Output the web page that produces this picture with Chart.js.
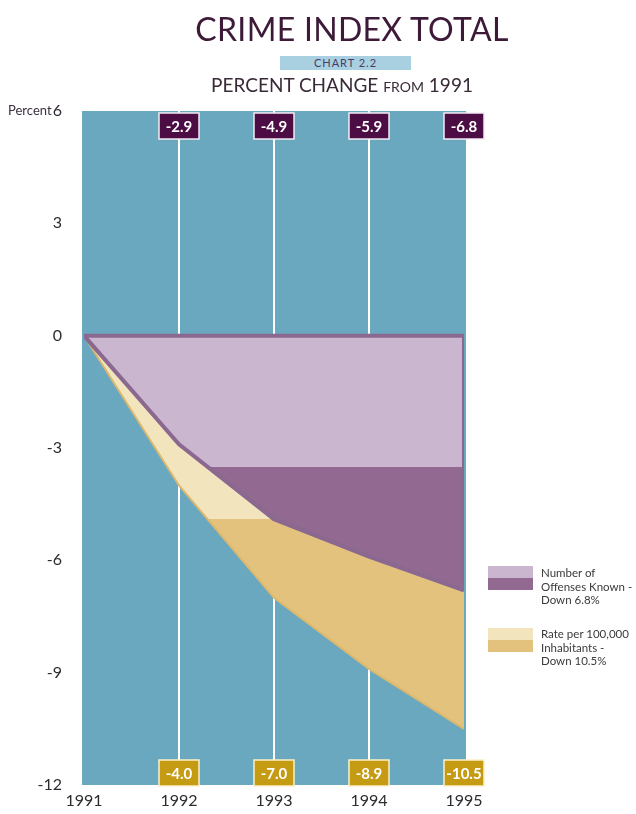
<!DOCTYPE html>
<html>
<head>
<meta charset="utf-8">
<script src="https://cdn.jsdelivr.net/npm/chart.js@4.4.1/dist/chart.umd.min.js"></script>
<style>
  body { margin: 0; background: #ffffff; font-family: Lato, "Open Sans", sans-serif; }
  #wrap { position: relative; width: 636px; height: 814px; }
  #chart { position: absolute; left: 0; top: 0; }
  .abs { position: absolute; white-space: nowrap; }
  #title { left: 0; width: 704px; top: 9px; text-align: center; font-size: 32px; color: #3d1a38; letter-spacing: 0.3px; }
  #chartNo { left: 280px; top: 56px; width: 131px; height: 14px; background: #a9d0e0; text-align: center;
             font-size: 11px; line-height: 14px; color: #4b3a66; letter-spacing: 1px; }
  #subtitle { left: 0; width: 684px; top: 73px; text-align: center; font-size: 19px; color: #3a2a38; }
  #subtitle small { font-size: 14px; }
  #percent { left: 8px; top: 102px; font-size: 13px; color: #3a3040; }
  .key { left: 488px; width: 45px; height: 24px; }
  .keyText { left: 541px; font-size: 11.5px; line-height: 13.5px; color: #3a3a3a; }
</style>
</head>
<body>
<div id="wrap">
  <canvas id="chart" width="636" height="814"></canvas>
  <div class="abs" id="title">CRIME INDEX TOTAL</div>
  <div class="abs" id="chartNo">CHART 2.2</div>
  <div class="abs" id="subtitle">PERCENT CHANGE <small>FROM</small> 1991</div>
  <div class="abs" id="percent">Percent</div>
  <div class="abs key" id="key1" style="top:566px"></div>
  <div class="abs keyText" id="keyText1" style="top:566px"></div>
  <div class="abs key" id="key2" style="top:628px"></div>
  <div class="abs keyText" id="keyText2" style="top:627px"></div>
</div>
<script>
// percent change from 1991
const years = [1991, 1992, 1993, 1994, 1995];
const offenses = [0, -2.9, -4.9, -5.9, -6.8];
const ratePer100k = [0, -4.0, -7.0, -8.9, -10.5];
const yTicks = [6, 3, 0, -3, -6, -9, -12];

const blue = '#6aa8bf';
const purpleLight = '#cbb6cf';
const purpleDark = '#926990';
const purpleLine = '#8b6890';
const goldLight = '#f2e4bd';
const goldDark = '#e2c27c';
const goldLine = '#dcb86e';

// two-tone fill: lighter above the split level, darker below
function splitFill(level, light, dark) {
  return function (c) {
    const chart = c.chart;
    const area = chart.chartArea;
    if (!area) return light;
    const y = chart.scales.y.getPixelForValue(level);
    const r = Math.min(1, Math.max(0, (y - area.top) / (area.bottom - area.top)));
    const g = chart.ctx.createLinearGradient(0, area.top, 0, area.bottom);
    g.addColorStop(0, light);
    g.addColorStop(r, light);
    g.addColorStop(r, dark);
    g.addColorStop(1, dark);
    return g;
  };
}

const toPoints = vals => vals.map((v, i) => ({ x: years[i], y: v }));

document.getElementById('key1').style.background = 'linear-gradient(' + purpleLight + ' 50%, ' + purpleDark + ' 50%)';
document.getElementById('key2').style.background = 'linear-gradient(' + goldLight + ' 50%, ' + goldDark + ' 50%)';
document.getElementById('keyText1').innerHTML = 'Number of<br>Offenses Known -<br>Down ' + Math.abs(offenses[4]).toFixed(1) + '%';
document.getElementById('keyText2').innerHTML = 'Rate per 100,000<br>Inhabitants -<br>Down ' + Math.abs(ratePer100k[4]).toFixed(1) + '%';

const panel = {
  id: 'panel',
  beforeDraw(chart) {
    const a = chart.chartArea;
    const ctx = chart.ctx;
    ctx.save();
    ctx.fillStyle = blue;
    ctx.fillRect(a.left - 2, a.top, a.right - a.left + 4, a.bottom - a.top);
    ctx.restore();
  }
};

// value boxes above and below each year line
const valueBoxes = {
  id: 'valueBoxes',
  afterDraw(chart) {
    const ctx = chart.ctx;
    const xs = chart.scales.x;
    const a = chart.chartArea;
    ctx.save();
    ctx.font = 'bold 15px Lato, sans-serif';
    ctx.textAlign = 'center';
    ctx.textBaseline = 'middle';
    for (let i = 1; i < years.length; i++) {
      const x = xs.getPixelForValue(years[i]);
      const boxes = [
        { v: offenses[i], top: a.top + 2, fill: '#4c0c44', edge: '#f4eaf2' },
        { v: ratePer100k[i], top: a.bottom - 25, fill: '#c59b14', edge: '#fbf1c8' }
      ];
      boxes.forEach(b => {
        const w = 40, h = 26;
        ctx.fillStyle = b.fill;
        ctx.fillRect(x - w / 2, b.top, w, h);
        ctx.strokeStyle = b.edge;
        ctx.lineWidth = 1.5;
        ctx.strokeRect(x - w / 2, b.top, w, h);
        ctx.fillStyle = '#ffffff';
        ctx.fillText(b.v.toFixed(1), x, b.top + h / 2 + 1);
      });
    }
    ctx.restore();
  }
};

new Chart(document.getElementById('chart'), {
  type: 'line',
  data: {
    datasets: [
      {
        label: 'Number of Offenses Known',
        data: toPoints(offenses),
        borderColor: purpleLine,
        borderWidth: 4,
        backgroundColor: splitFill(-3.5, purpleLight, purpleDark),
        fill: 'origin',
        tension: 0,
        pointRadius: 0
      },
      {
        label: 'Rate per 100,000 Inhabitants',
        data: toPoints(ratePer100k),
        borderColor: goldLine,
        borderWidth: 2,
        backgroundColor: splitFill(offenses[2], goldLight, goldDark),
        fill: 0,
        tension: 0,
        pointRadius: 0
      },
      {
        label: 'frame',
        data: [{ x: years[0], y: 0 }, { x: years[4], y: 0 }, { x: years[4], y: offenses[4] }],
        borderColor: purpleLine,
        borderWidth: 4,
        fill: false,
        tension: 0,
        pointRadius: 0,
        order: -1
      }
    ]
  },
  options: {
    responsive: false,
    animation: false,
    layout: { padding: { top: 111, right: 172, bottom: 0, left: 0 } },
    plugins: { legend: { display: false }, tooltip: { enabled: false } },
    scales: {
      x: {
        type: 'linear',
        min: years[0],
        max: years[years.length - 1],
        z: 1,
        grid: {
          color: c => (c.tick && (c.tick.value === years[0] || c.tick.value === years[4])) ? 'rgba(0,0,0,0)' : '#ffffff',
          lineWidth: 2,
          drawTicks: false
        },
        border: { display: false },
        ticks: {
          stepSize: 1,
          padding: 6,
          color: '#2e2a30',
          font: { family: 'Lato', size: 16 },
          callback: v => String(v)
        },
        afterFit: s => { s.height = 29; }
      },
      y: {
        min: -12,
        max: 6,
        grid: { display: false },
        border: { display: false },
        afterBuildTicks: s => { s.ticks = yTicks.map(v => ({ value: v })); },
        ticks: {
          padding: 14,
          color: '#2e2a30',
          font: { family: 'Lato', size: 16 },
          callback: v => String(v)
        },
        afterFit: s => { s.width = 84; }
      }
    }
  },
  plugins: [panel, valueBoxes]
});
</script>
</body>
</html>
